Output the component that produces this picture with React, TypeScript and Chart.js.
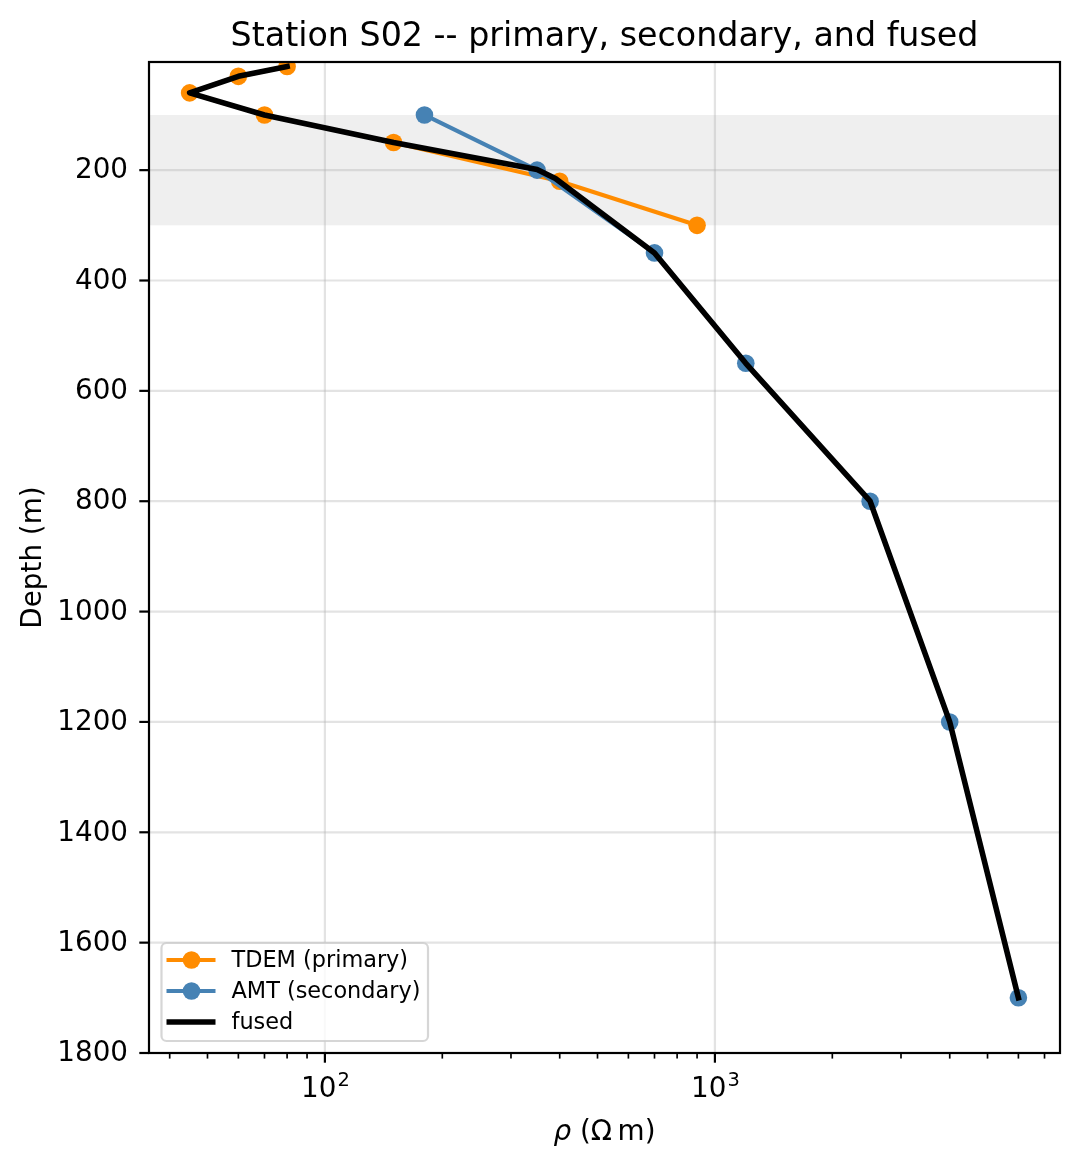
import { useEffect, useRef } from "react"
import { Chart, registerables, type ChartConfiguration, type Plugin } from "chart.js"

Chart.register(...registerables)

// TDEM (primary) sounding
const tdemRho = [80, 60, 45, 70, 150, 400, 900]
const tdemDepth = [12, 30, 60, 100, 150, 220, 300]

// AMT (secondary) sounding
const amtRho = [180, 350, 700, 1200, 2500, 4000, 6000]
const amtDepth = [100, 200, 350, 550, 800, 1200, 1700]

// fused model
const fusedRho = [80, 60, 45, 70, 150, 350, 390, 700, 1200, 2500, 4000, 6000]
const fusedDepth = [12, 30, 60, 100, 150, 199, 215, 350, 550, 800, 1200, 1700]

// overlap band (depth)
const bandDepth = [100, 300]

// ticks
const yTicks = [200, 400, 600, 800, 1000, 1200, 1400, 1600, 1800]
const xMajor = [100, 1000]
const xMajorExp = ["2", "3"]
const xMinor = [40, 50, 60, 70, 80, 90, 200, 300, 400, 500, 600, 700, 800, 900, 2000, 3000, 4000, 5000, 6000, 7000]

const FONT = '"DejaVu Sans", sans-serif'
const ORANGE = "#ff8c00"
const BLUE = "#4682b4"
const TICK_FS = 27.8

const toPoints = (xs: number[], ys: number[]) => xs.map((x, i) => ({ x, y: ys[i] }))

const decorPlugin: Plugin = {
  id: "decor",
  beforeDraw(chart) {
    const { ctx, chartArea: a } = chart
    const x = chart.scales.x
    const y = chart.scales.y
    ctx.save()
    // shaded band
    const y0 = y.getPixelForValue(bandDepth[0])
    const y1 = y.getPixelForValue(bandDepth[1])
    ctx.fillStyle = "#efefef"
    ctx.fillRect(a.left, y0, a.right - a.left, y1 - y0)
    // grid
    ctx.strokeStyle = "rgba(176,176,176,0.35)"
    ctx.lineWidth = 2.2
    xMajor.forEach((v) => {
      const px = x.getPixelForValue(v)
      ctx.beginPath()
      ctx.moveTo(px, a.top)
      ctx.lineTo(px, a.bottom)
      ctx.stroke()
    })
    yTicks.forEach((v) => {
      const py = y.getPixelForValue(v)
      ctx.beginPath()
      ctx.moveTo(a.left, py)
      ctx.lineTo(a.right, py)
      ctx.stroke()
    })
    ctx.restore()
  },
  afterDraw(chart) {
    const { ctx, chartArea: a } = chart
    const x = chart.scales.x
    const y = chart.scales.y
    ctx.save()

    // spines
    ctx.strokeStyle = "#000"
    ctx.lineWidth = 2.2
    ctx.strokeRect(a.left, a.top, a.right - a.left, a.bottom - a.top)

    // y ticks + labels
    ctx.fillStyle = "#000"
    ctx.font = `${TICK_FS}px ${FONT}`
    ctx.textAlign = "right"
    ctx.textBaseline = "middle"
    yTicks.forEach((v) => {
      const py = y.getPixelForValue(v)
      ctx.beginPath()
      ctx.moveTo(a.left, py)
      ctx.lineTo(a.left - 9.7, py)
      ctx.stroke()
      ctx.fillText(String(v), a.left - 21, py + 1)
    })

    // x ticks
    xMajor.forEach((v, i) => {
      const px = x.getPixelForValue(v)
      ctx.lineWidth = 2.2
      ctx.beginPath()
      ctx.moveTo(px, a.bottom)
      ctx.lineTo(px, a.bottom + 9.7)
      ctx.stroke()
      ctx.textBaseline = "alphabetic"
      ctx.textAlign = "left"
      ctx.font = `${TICK_FS}px ${FONT}`
      const w1 = ctx.measureText("10").width
      ctx.font = `${TICK_FS * 0.7}px ${FONT}`
      const w2 = ctx.measureText(xMajorExp[i]).width
      const start = px - (w1 + w2) / 2
      ctx.font = `${TICK_FS}px ${FONT}`
      ctx.fillText("10", start, 1097)
      ctx.font = `${TICK_FS * 0.7}px ${FONT}`
      ctx.fillText(xMajorExp[i], start + w1 + 1, 1086)
    })
    ctx.lineWidth = 1.67
    xMinor.forEach((v) => {
      const px = x.getPixelForValue(v)
      ctx.beginPath()
      ctx.moveTo(px, a.bottom)
      ctx.lineTo(px, a.bottom + 5.6)
      ctx.stroke()
    })

    // x axis label: rho (Ohm m)
    const cx = (a.left + a.right) / 2
    ctx.textAlign = "left"
    ctx.textBaseline = "alphabetic"
    ctx.font = `italic ${TICK_FS}px ${FONT}`
    const rho = "\u03C1"
    const wr = ctx.measureText(rho).width
    ctx.font = `${TICK_FS}px ${FONT}`
    const rest = " (\u03A9\u2009m)"
    const wrest = ctx.measureText(rest).width
    const lx = cx - (wr + wrest) / 2
    ctx.font = `italic ${TICK_FS}px ${FONT}`
    ctx.fillText(rho, lx, 1140)
    ctx.font = `${TICK_FS}px ${FONT}`
    ctx.fillText(rest, lx + wr, 1140)

    // y axis label
    ctx.save()
    ctx.translate(41, (a.top + a.bottom) / 2)
    ctx.rotate(-Math.PI / 2)
    ctx.textAlign = "center"
    ctx.textBaseline = "alphabetic"
    ctx.font = `${TICK_FS}px ${FONT}`
    ctx.fillText("Depth (m)", 0, 0)
    ctx.restore()

    // title
    ctx.textAlign = "center"
    ctx.textBaseline = "alphabetic"
    ctx.font = `33.3px ${FONT}`
    ctx.fillText("Station S02 -- primary, secondary, and fused", cx, 46)

    // legend
    const bx = a.left + 12.5
    const by = 943
    const bw = 266.5
    const bh = 98
    ctx.beginPath()
    ctx.roundRect(bx, by, bw, bh, 5)
    ctx.fillStyle = "rgba(255,255,255,0.8)"
    ctx.fill()
    ctx.strokeStyle = "rgba(204,204,204,0.8)"
    ctx.lineWidth = 2.2
    ctx.stroke()
    const entries = [
      { label: "TDEM (primary)", color: ORANGE, width: 4.17, marker: true },
      { label: "AMT (secondary)", color: BLUE, width: 4.17, marker: true },
      { label: "fused", color: "#000", width: 5.56, marker: false },
    ]
    ctx.font = `22.4px ${FONT}`
    ctx.textAlign = "left"
    ctx.textBaseline = "middle"
    entries.forEach((e, i) => {
      const ry = 960 + i * 31
      ctx.strokeStyle = e.color
      ctx.lineWidth = e.width
      ctx.lineCap = "butt"
      ctx.beginPath()
      ctx.moveTo(bx + 5, ry)
      ctx.lineTo(bx + 54, ry)
      ctx.stroke()
      if (e.marker) {
        ctx.fillStyle = e.color
        ctx.beginPath()
        ctx.arc(bx + 30, ry, 8.8, 0, Math.PI * 2)
        ctx.fill()
      }
      ctx.fillStyle = "#000"
      ctx.fillText(e.label, bx + 70, ry + 1)
    })

    ctx.restore()
  },
}

export default function App() {
  const canvasRef = useRef<HTMLCanvasElement>(null)
  const chartRef = useRef<Chart | null>(null)

  useEffect(() => {
    if (!canvasRef.current) return
    if (chartRef.current) chartRef.current.destroy()

    const config: ChartConfiguration = {
      type: "scatter",
      data: {
        datasets: [
          {
            label: "fused",
            data: toPoints(fusedRho, fusedDepth),
            showLine: true,
            borderColor: "#000",
            borderWidth: 5.56,
            pointRadius: 0,
            borderJoinStyle: "round",
            borderCapStyle: "square",
            order: 0,
            clip: 0,
          },
          {
            label: "AMT (secondary)",
            data: toPoints(amtRho, amtDepth),
            showLine: true,
            borderColor: BLUE,
            backgroundColor: BLUE,
            borderWidth: 4.17,
            pointRadius: 8.8,
            pointBorderWidth: 0,
            pointBackgroundColor: BLUE,
            borderJoinStyle: "round",
            order: 1,
            clip: 0,
          },
          {
            label: "TDEM (primary)",
            data: toPoints(tdemRho, tdemDepth),
            showLine: true,
            borderColor: ORANGE,
            backgroundColor: ORANGE,
            borderWidth: 4.17,
            pointRadius: 8.8,
            pointBorderWidth: 0,
            pointBackgroundColor: ORANGE,
            borderJoinStyle: "round",
            order: 2,
            clip: 0,
          },
        ] as any,
      },
      options: {
        responsive: false,
        animation: false,
        devicePixelRatio: 1,
        layout: { padding: { left: 149, right: 20, top: 62, bottom: 113 } },
        scales: {
          x: { type: "logarithmic", min: 35.4, max: 7670, display: false },
          y: { type: "linear", min: 4, max: 1800, reverse: true, display: false },
        },
        plugins: {
          legend: { display: false },
          title: { display: false },
          tooltip: { enabled: false },
        },
      },
      plugins: [decorPlugin],
    }

    chartRef.current = new Chart(canvasRef.current, config)

    return () => {
      if (chartRef.current) {
        chartRef.current.destroy()
        chartRef.current = null
      }
    }
  }, [])

  return (
    <div style={{ position: "absolute", left: 0, top: 0, width: 1080, height: 1166, background: "#fff" }}>
      <canvas ref={canvasRef} width={1080} height={1166}></canvas>
    </div>
  )
}
